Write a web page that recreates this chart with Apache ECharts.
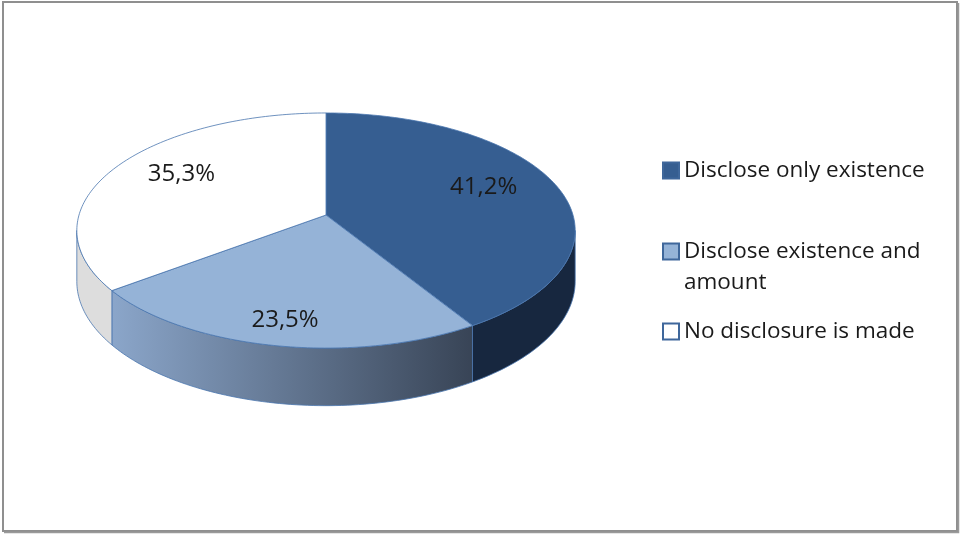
<!DOCTYPE html>
<html>
<head>
<meta charset="utf-8">
<script src="https://cdn.jsdelivr.net/npm/echarts@6/dist/echarts.min.js"></script>
<style>
  html, body { margin: 0; padding: 0; background: #fff; }
  #main { width: 961px; height: 536px; }
</style>
</head>
<body>
<div id="main"></div>
<script>
// data (17 answers: 7 / 4 / 6)
var categories = ['Disclose only existence', 'Disclose existence and amount', 'No disclosure is made'];
var counts = [7, 4, 6];

// styles
var topColors = ['#365E91', '#95B3D7', '#FFFFFF'];
var sideColors = [
  '#17273F',
  { type: 'linear', x: 0, y: 0, x2: 1, y2: 0, colorStops: [{ offset: 0, color: '#8BA6CA' }, { offset: 1, color: '#384456' }] },
  '#DDDDDD'
];
var edgeColor = '#4A76AE';

var total = counts.reduce(function (s, v) { return s + v; }, 0);

// pseudo 3D geometry of the tilted disc
var cx = 326, cy = 215, rx = 247, ry = 115.5, persp = -0.132, depth = 50;

function proj(theta, f, drop) {
  var u = f * Math.sin(theta), v = -f * Math.cos(theta);
  var s = 1 / (1 + persp * v);
  return [cx + rx * u * s, cy + ry * v * s + drop * s];
}

function arc(t1, t2, f, drop) {
  var pts = [], n = Math.max(2, Math.ceil((t2 - t1) / 0.02));
  for (var i = 0; i <= n; i++) pts.push(proj(t1 + (t2 - t1) * i / n, f, drop));
  return pts;
}

// front part of the rim that shows its wall
var frontA = Math.acos(persp), frontB = 2 * Math.PI - Math.acos(persp);

function renderItem(params, api) {
  var idx = params.seriesIndex;
  var before = 0;
  for (var j = 0; j < idx; j++) before += counts[j];
  var val = api.value(0);
  var t1 = before / total * 2 * Math.PI;
  var t2 = (before + val) / total * 2 * Math.PI;
  var children = [];

  var s1 = Math.max(t1, frontA), s2 = Math.min(t2, frontB);
  if (s2 > s1) {
    var upper = arc(s1, s2, 1, 0);
    var lower = arc(s1, s2, 1, depth).reverse();
    children.push({
      type: 'polygon', z2: 0,
      shape: { points: upper.concat(lower) },
      style: { fill: sideColors[idx], stroke: edgeColor, lineWidth: 0.8 }
    });
  }

  var topPts = [proj(0, 0, 0)].concat(arc(t1, t2, 1, 0));
  children.push({
    type: 'polygon', z2: 10,
    shape: { points: topPts },
    style: { fill: topColors[idx], stroke: edgeColor, lineWidth: 0.8 }
  });

  // label sits a bit further out on the front of the disc
  var mid = (t1 + t2) / 2;
  var front = Math.max(0, -Math.cos(mid));
  var p = proj(mid, 0.68 + 0.13 * front, -7 + 10 * front);
  children.push({
    type: 'text', z2: 20, x: p[0], y: p[1],
    style: {
      text: (val / total * 100).toFixed(1).replace('.', ',') + '%',
      font: '24px "Open Sans"', fill: '#1a1a1a',
      align: 'center', verticalAlign: 'middle'
    }
  });
  return { type: 'group', children: children };
}

var chart = echarts.init(document.getElementById('main'));

var series = categories.map(function (name, i) {
  return {
    type: 'custom',
    name: name,
    coordinateSystem: 'none',
    renderItem: renderItem,
    itemStyle: { color: topColors[i], borderColor: '#3F679B', borderWidth: 1.5 },
    data: [[counts[i]]]
  };
});

function legendFor(i, top, wrap) {
  return {
    orient: 'vertical',
    left: 662,
    top: top,
    padding: 0,
    itemWidth: 16,
    itemHeight: 16,
    icon: 'rect',
    textStyle: {
      fontFamily: 'Open Sans', fontSize: 22.5, color: '#1a1a1a', lineHeight: 31,
      width: 255, overflow: 'break'
    },
    // a blank first line keeps the marker level with the first line of a wrapped name
    formatter: wrap ? function (name) { return '\n' + name; } : '{name}',
    data: [categories[i]]
  };
}

chart.setOption({
  backgroundColor: '#fff',
  animation: false,
  graphic: [{
    type: 'rect',
    shape: { x: 3, y: 2, width: 954, height: 529 },
    style: { fill: 'none', stroke: '#8f8f8f', lineWidth: 2 }
  }, {
    type: 'polyline',
    shape: { points: [[958.5, 3], [958.5, 532.5], [4, 532.5]] },
    style: { fill: 'none', stroke: '#9a9a9a', lineWidth: 1.5 }
  }],
  legend: [
    legendFor(0, 155, false),
    legendFor(1, 205, true),
    legendFor(2, 316, false)
  ],
  series: series
});
</script>
</body>
</html>
